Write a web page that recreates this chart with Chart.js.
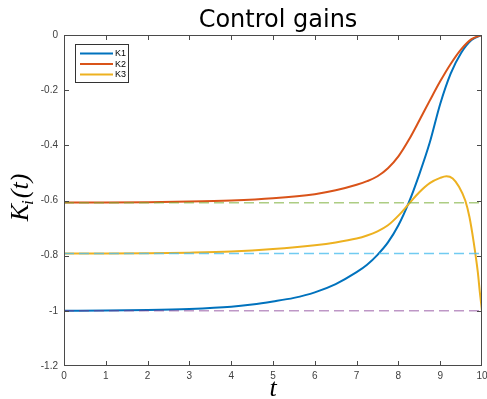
<!DOCTYPE html>
<html><head><meta charset="utf-8">
<script src="https://cdn.jsdelivr.net/npm/chart.js@4/dist/chart.umd.min.js"></script>
<style>html,body{margin:0;padding:0;background:#fff;}#wrap{width:487px;height:399px;}</style>
</head><body><div id="wrap"><canvas id="c" width="487" height="399"></canvas></div>
<script>
const titleText = 'Control gains';
const xTitle = 't';
const seriesNames = ['K1', 'K2', 'K3'];
const seriesColors = ['#0072BD', '#D95319', '#EDB120'];

const tK1 = [0, 1, 2, 3, 4, 4.5, 5, 5.5, 6, 6.5, 7, 7.25, 7.5, 7.75, 8, 8.25, 8.5, 8.75, 9, 9.25, 9.5, 9.75, 10];
const K1  = [-1.0, -0.999, -0.997, -0.993, -0.985, -0.977, -0.966, -0.953, -0.933, -0.903, -0.86, -0.833, -0.797, -0.752, -0.69, -0.607, -0.505, -0.39, -0.25, -0.14, -0.065, -0.018, 0];

const tK2 = [0, 1, 2, 3, 4, 5, 6, 6.5, 7, 7.25, 7.5, 7.75, 8, 8.25, 8.5, 8.75, 9, 9.25, 9.5, 9.75, 10];
const K2  = [-0.607, -0.607, -0.606, -0.604, -0.600, -0.592, -0.577, -0.563, -0.543, -0.53, -0.512, -0.483, -0.44, -0.38, -0.31, -0.238, -0.168, -0.105, -0.052, -0.015, 0];

const tK3 = [0, 1, 2, 3, 4, 5, 6, 6.5, 7, 7.25, 7.5, 7.75, 8, 8.25, 8.5, 8.75, 9, 9.15, 9.3, 9.45, 9.6, 9.7, 9.8, 9.9, 9.95, 10];
const K3  = [-0.792, -0.792, -0.791, -0.789, -0.785, -0.776, -0.762, -0.752, -0.738, -0.727, -0.712, -0.69, -0.655, -0.612, -0.57, -0.537, -0.518, -0.512, -0.52, -0.55, -0.60, -0.66, -0.75, -0.86, -0.935, -1.0];

const refLevels = [-0.608, -0.792, -1.0];
const refColors = ['rgba(119,172,48,0.6)', 'rgba(77,190,238,0.8)', 'rgba(126,47,142,0.5)'];

const xTicks = [0, 1, 2, 3, 4, 5, 6, 7, 8, 9, 10];
const yTicks = [0, -0.2, -0.4, -0.6, -0.8, -1, -1.2];

function pts(xs, ys) { return xs.map((x, i) => ({ x: x, y: ys[i] })); }

const curveT = [tK1, tK2, tK3];
const curveV = [K1, K2, K3];
const datasets = [];
seriesNames.forEach((name, i) => {
  datasets.push({
    label: name, data: pts(curveT[i], curveV[i]),
    borderColor: seriesColors[i], backgroundColor: seriesColors[i],
    borderWidth: 2, pointRadius: 0, cubicInterpolationMode: 'monotone',
    fill: false, order: 3 - i
  });
});
refLevels.forEach((lv, i) => {
  datasets.push({
    label: 'ref' + i, data: pts([xTicks[0], xTicks[xTicks.length - 1]], [lv, lv]),
    borderColor: refColors[i], borderWidth: 1.5, borderDash: [10, 5],
    pointRadius: 0, fill: false, order: 0
  });
});

const decor = {
  id: 'decor',
  afterDraw(chart) {
    const ctx = chart.ctx, a = chart.chartArea;
    const xs = chart.scales.x, ys = chart.scales.y;
    ctx.save();
    // title
    ctx.fillStyle = '#000';
    ctx.font = '24px "DejaVu Sans", sans-serif';
    ctx.textAlign = 'center';
    ctx.textBaseline = 'alphabetic';
    ctx.fillText(titleText, (a.left + a.right) / 2 + 5, 27);

    // box
    ctx.fillStyle = '#4a4a4a';
    const L = Math.round(a.left), R = Math.round(a.right) - 1;
    const T = Math.round(a.top), B = Math.round(a.bottom) - 1;
    ctx.fillRect(L, T, R - L + 1, 1);
    ctx.fillRect(L, B, R - L + 1, 1);
    ctx.fillRect(L, T, 1, B - T + 1);
    ctx.fillRect(R, T, 1, B - T + 1);
    xTicks.forEach(v => {
      const px = Math.round(xs.getPixelForValue(v));
      const xx = Math.min(Math.max(px, L), R);
      ctx.fillRect(xx, B - 4, 1, 4);
      ctx.fillRect(xx, T + 1, 1, 4);
    });
    yTicks.forEach(v => {
      const py = Math.round(ys.getPixelForValue(v));
      const yy = Math.min(Math.max(py, T), B);
      ctx.fillRect(L + 1, yy, 4, 1);
      ctx.fillRect(R - 4, yy, 4, 1);
    });

    // legend
    const lx = 75.5, ly = 44.5, lw = 53, lh = 38;
    ctx.fillStyle = '#fff';
    ctx.fillRect(lx, ly, lw, lh);
    ctx.strokeStyle = '#333';
    ctx.lineWidth = 1;
    ctx.strokeRect(lx, ly, lw, lh);
    ctx.font = '9px "Liberation Sans", Arial, sans-serif';
    ctx.textBaseline = 'middle';
    ctx.textAlign = 'left';
    seriesNames.forEach((name, i) => {
      const yy = 53.5 + i * 10.5;
      ctx.strokeStyle = seriesColors[i];
      ctx.lineWidth = 2;
      ctx.beginPath(); ctx.moveTo(80, yy); ctx.lineTo(113, yy); ctx.stroke();
      ctx.fillStyle = '#000';
      ctx.fillText(name, 115, yy + 0.5);
    });

    // y title K_i(t)
    const big = 'italic 26px "Liberation Serif", "DejaVu Serif", serif';
    const small = 'italic 17px "Liberation Serif", "DejaVu Serif", serif';
    ctx.save();
    ctx.translate(28, (a.top + a.bottom) / 2 - 3);
    ctx.rotate(-Math.PI / 2);
    ctx.fillStyle = '#000';
    ctx.textBaseline = 'alphabetic';
    ctx.font = big; const wK = ctx.measureText('K').width; const wP = ctx.measureText('(t)').width;
    ctx.font = small; const wI = ctx.measureText('i').width;
    let x0 = -(wK + wI + 1 + wP) / 2;
    ctx.font = big; ctx.fillText('K', x0, 0);
    ctx.font = small; ctx.fillText('i', x0 + wK - 1, 5);
    ctx.font = big; ctx.fillText('(t)', x0 + wK + wI + 1, 0);
    ctx.restore();

    // x title
    ctx.font = 'italic 26px "Liberation Serif", "DejaVu Serif", serif';
    ctx.textAlign = 'center';
    ctx.textBaseline = 'alphabetic';
    ctx.fillStyle = '#000';
    ctx.fillText(xTitle, (a.left + a.right) / 2, 396);
    ctx.restore();
  }
};

new Chart(document.getElementById('c'), {
  type: 'line',
  data: { datasets: datasets },
  options: {
    responsive: false, animation: false, devicePixelRatio: 1,
    layout: { padding: { top: 35, right: 5, bottom: 0, left: 0 }, autoPadding: false },
    plugins: {
      legend: { display: false }, tooltip: { enabled: false },
      title: { display: false }
    },
    scales: {
      x: { type: 'linear', min: 0, max: 10,
        afterFit: s => { s.height = 33; s.paddingLeft = 0; s.paddingRight = 0; },
        afterBuildTicks: s => { s.ticks = xTicks.map(v => ({ value: v })); },
        grid: { display: false, drawTicks: false }, border: { display: false },
        ticks: { color: '#404040', padding: 4, maxRotation: 0, autoSkip: false,
          font: { family: '"Liberation Sans", Arial, sans-serif', size: 10 },
          callback: v => String(v) } },
      y: { type: 'linear', min: -1.2, max: 0,
        afterFit: s => { s.width = 64; s.paddingTop = 0; s.paddingBottom = 0; },
        afterBuildTicks: s => { s.ticks = yTicks.map(v => ({ value: v })); },
        grid: { display: false, drawTicks: false }, border: { display: false },
        ticks: { color: '#404040', padding: 6, autoSkip: false,
          font: { family: '"Liberation Sans", Arial, sans-serif', size: 10 },
          callback: v => String(Math.round(v * 10) / 10) } }
    }
  },
  plugins: [decor]
});
</script></body></html>
